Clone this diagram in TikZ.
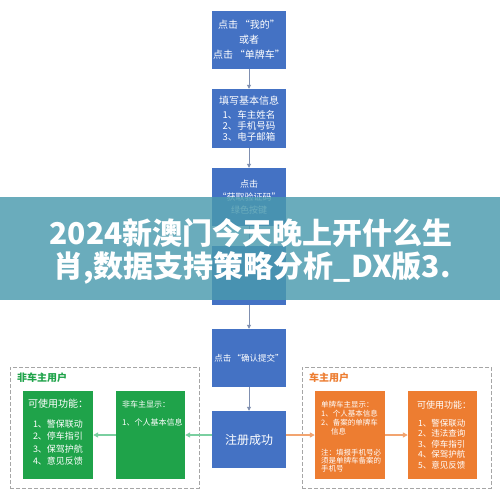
\documentclass[tikz,border=0pt]{standalone}
\usepackage{fontspec}
\setmainfont{Noto Sans CJK SC}
\usetikzlibrary{arrows.meta}
\definecolor{bluebox}{HTML}{4472C4}
\definecolor{greenbox}{HTML}{1FA34A}
\definecolor{orangebox}{HTML}{ED7D31}
\definecolor{barrow}{HTML}{7F8FB0}
\definecolor{garrow}{HTML}{7ACFA0}
\definecolor{oarrow}{HTML}{F2A470}
\definecolor{dashgray}{HTML}{A6A6A6}
\definecolor{bannercol}{HTML}{4A9AAE}
\begin{document}
\begin{tikzpicture}[x=1pt,y=-1pt,
  bbox/.style={fill=bluebox, minimum width=74pt, minimum height=58pt, inner sep=0pt, text=white, align=center},
  gbox/.style={fill=greenbox, minimum width=70pt, minimum height=88pt, inner sep=0pt},
  obox/.style={fill=orangebox, minimum width=70pt, minimum height=88pt, inner sep=0pt},
  grp/.style={draw=dashgray, line width=1pt, dash pattern=on 4pt off 2pt, minimum width=189pt, minimum height=121pt, inner sep=0pt},
  wtxt/.style={text=white, inner sep=0pt},
  barr/.style={draw=barrow, line width=0.8pt, -{Triangle[length=4pt,width=4pt]}},
  garr/.style={draw=garrow, line width=1.2pt, -{Triangle[length=5pt,width=5pt]}},
  oarr/.style={draw=oarrow, line width=1.2pt, -{Triangle[length=5pt,width=5pt]}}
]
\useasboundingbox (0,0) rectangle (500,500);
\fill[white] (0,0) rectangle (500,500);

% main column
\node[bbox, font=\fontsize{10}{15}\selectfont] (b1) at (249,40) {点击\,“我的”\\或者\\点击\,“单牌车”};
\node[bbox, minimum height=59pt, font=\fontsize{9.5}{10.8}\selectfont] (b2) at (249,118.5) {{\fontsize{10}{11}\selectfont 填写基本信息}\\[3pt]1、车主姓名\\2、手机号码\\3、电子邮箱};
\node[bbox, font=\fontsize{9}{13}\selectfont] (b3) at (249,197) {点击\\“获取验证码”\\绿色按键};
\node[bbox, minimum height=59pt] (b4) at (249,275.5) {};
\node[bbox, font=\fontsize{8.5}{11}\selectfont] (b5) at (249,358) {点击\,“确认提交”};
\node[bbox, minimum height=57pt, font=\fontsize{12}{14}\selectfont] (b6) at (249,439.5) {注册成功};

\draw[barr] (b1) -- (b2);
\draw[barr] (b2) -- (b3);
\draw[barr] (b3) -- (b4);
\draw[barr] (b4) -- (b5);
\draw[barr] (b5) -- (b6);

% groups
\node[grp] (gl) at (104.5,427.5) {};
\node[grp] (gr) at (396.5,427.5) {};
\node[anchor=west, inner sep=0pt, text=greenbox, font=\bfseries\fontsize{10}{10}\selectfont] (tl) at (17,378) {非车主用户};
\node[anchor=west, inner sep=0pt, text=orangebox, font=\bfseries\fontsize{10}{10}\selectfont] (tr) at (309,378) {车主用户};

% green boxes
\node[gbox] (g1) at (58,435) {};
\node[gbox, minimum width=69pt] (g2) at (150.5,435) {};
\node[wtxt, font=\fontsize{10}{12}\selectfont] (g1h) at (58,404) {可使用功能：};
\node[wtxt, align=center, font=\fontsize{9}{12.3}\selectfont] (g1l) at (58,442.5) {1、警保联动\\2、停车指引\\3、保驾护航\\4、意见反馈};
\node[wtxt, anchor=west, font=\fontsize{8}{10}\selectfont] (g2h) at (122,404) {非车主显示：};
\node[wtxt, anchor=west, font=\fontsize{8}{10}\selectfont] (g2l) at (122,422) {1、个人基本信息};

% orange boxes
\node[obox] (o1) at (350,435) {};
\node[obox, minimum width=69pt] (o2) at (442.5,435) {};
\node[wtxt, anchor=west, align=left, font=\fontsize{7.5}{9}\selectfont] (o1a) at (321,418.5) {单牌车主显示：\\1、个人基本信息\\2、备案的单牌车\\\hspace*{10pt}信息};
\node[wtxt, anchor=west, align=left, font=\fontsize{7.5}{8}\selectfont] (o1b) at (321,461) {注：填报手机号必\\须是单牌车备案的\\手机号};
\node[wtxt, anchor=west, font=\fontsize{9}{11}\selectfont] (o2h) at (417,405) {可使用功能：};
\node[wtxt, anchor=west, align=left, font=\fontsize{8.5}{10.5}\selectfont] (o2l) at (418,444) {1、警保联动\\2、违法查询\\3、停车指引\\4、保驾护航\\5、意见反馈};

% horizontal connectors
\draw[garr] (b6.west |- g2.east) -- (g2.east);
\draw[garr] (g2.west) -- (g1.east);
\draw[oarr] (b6.east |- o1.west) -- (o1.west);
\draw[oarr] (o1.east) -- (o2.west);

% overlay banner
\fill[bannercol, opacity=0.82] (0,197) rectangle (500,300);
\node[text=white, inner sep=0pt, font=\bfseries\fontsize{30}{32}\selectfont] (ban1) at (251,233) {2024新澳门今天晚上开什么生};
\node[text=white, inner sep=0pt, font=\bfseries\fontsize{30}{32}\selectfont] (ban2) at (252,268) {肖,数据支持策略分析\_DX版3.};
\end{tikzpicture}
\end{document}
